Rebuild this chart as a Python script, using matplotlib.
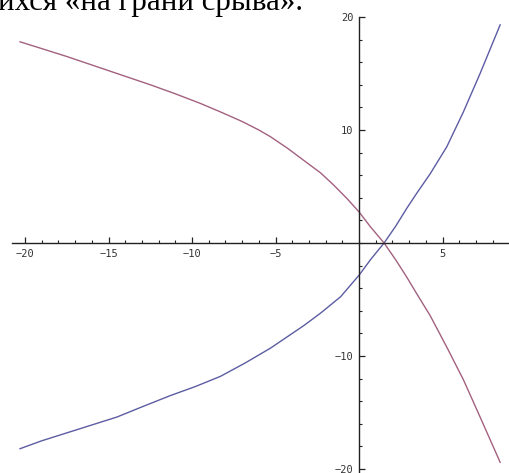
import numpy as np
import matplotlib.pyplot as plt
from matplotlib.ticker import FixedLocator, FixedFormatter

# curve samples
x_blue = [-20.3, -19.0, -17.5, -16.0, -14.5, -13.0, -11.3, -9.8, -8.3, -6.8, -5.3, -4.3, -3.3, -2.3,
          -1.1, 0.0, 0.7, 1.5, 2.2, 2.85, 3.5, 4.25, 5.25, 6.25, 7.25, 8.45]
y_blue = [-18.2, -17.5, -16.8, -16.1, -15.4, -14.5, -13.5, -12.7, -11.8, -10.6, -9.3, -8.3, -7.3, -6.2,
          -4.75, -2.85, -1.45, 0.0, 1.5, 3.05, 4.5, 6.1, 8.5, 11.6, 15.0, 19.3]

x_red = [-20.3, -19.0, -17.5, -15.5, -14.0, -12.5, -11.0, -9.5, -8.3, -7.0, -6.0, -5.3, -4.3, -3.3,
         -2.3, -1.5, -0.7, 0.0, 0.7, 1.5, 2.2, 2.85, 3.5, 4.25, 5.25, 6.25, 7.25, 8.45]
y_red = [17.8, 17.2, 16.5, 15.5, 14.75, 14.0, 13.2, 12.35, 11.6, 10.75, 10.0, 9.4, 8.4, 7.3,
         6.2, 5.1, 3.9, 2.75, 1.4, 0.0, -1.5, -3.0, -4.6, -6.4, -9.2, -12.1, -15.4, -19.4]

# axis ticks
x_major = [-20, -15, -10, -5, 5]
x_major_labels = ['\u221220', '\u221215', '\u221210', '\u22125', '5']
y_major = [-20, -10, 10, 20]
y_major_labels = ['\u221220', '\u221210', '10', '20']
x_minor = list(range(-20, 9))
y_minor = list(range(-20, 21, 2))

caption = 'ихся «на грани срыва».'

fig = plt.figure(figsize=(5.09, 4.73), dpi=100)
ax = fig.add_axes([0, 0, 1, 1])
ax.set_xlim(-21.5, 8.98)
ax.set_ylim(-20.35, 21.5)

ax.plot(x_blue, y_blue, color=(0.36, 0.36, 0.64), lw=1.0)
ax.plot(x_red, y_red, color=(0.64, 0.38, 0.50), lw=1.0)

# axes crossing at the origin
for s in ['top', 'right']:
    ax.spines[s].set_visible(False)
ax.spines['left'].set_position(('data', 0))
ax.spines['bottom'].set_position(('data', 0))
ax.spines['left'].set_bounds(-20.5, 20)
ax.spines['bottom'].set_bounds(-20.8, 9)
for s in ['left', 'bottom']:
    ax.spines[s].set_linewidth(1.0)
    ax.spines[s].set_color('#222222')

ax.xaxis.set_major_locator(FixedLocator(x_major))
ax.xaxis.set_major_formatter(FixedFormatter(x_major_labels))
ax.xaxis.set_minor_locator(FixedLocator(x_minor))
ax.yaxis.set_major_locator(FixedLocator(y_major))
ax.yaxis.set_major_formatter(FixedFormatter(y_major_labels))
ax.yaxis.set_minor_locator(FixedLocator(y_minor))

ax.tick_params(which='both', direction='in', colors='#222222', labelsize=7.5, labelcolor='#333333')
ax.tick_params(which='major', length=4, width=0.9, pad=4)
ax.tick_params(which='minor', length=2.2, width=0.8)
for lab in ax.get_xticklabels() + ax.get_yticklabels():
    lab.set_family('DejaVu Sans Mono')

# caption line cut off at the top
fig.text(-0.004, 1 - 10 / 473, caption, fontsize=22.3, family='Liberation Serif',
         va='baseline', ha='left', color='black')

fig.savefig('out.png', dpi=100)
